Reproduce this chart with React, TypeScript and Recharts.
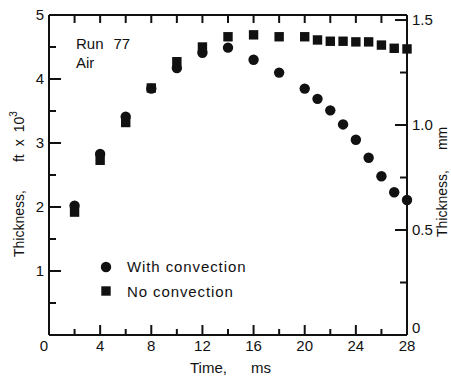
import { ScatterChart, Scatter, XAxis, YAxis, ReferenceLine } from "recharts"

const time = [2, 4, 6, 8, 10, 12, 14, 16, 18, 20, 21, 22, 23, 24, 25, 26, 27, 28]
const withConvection = [2.02, 2.83, 3.41, 3.85, 4.17, 4.41, 4.49, 4.3, 4.1, 3.85, 3.69, 3.51, 3.29, 3.05, 2.77, 2.48, 2.23, 2.11]
const noConvection = [1.92, 2.73, 3.32, 3.86, 4.27, 4.5, 4.66, 4.69, 4.66, 4.66, 4.61, 4.59, 4.59, 4.58, 4.58, 4.53, 4.48, 4.47]
const seriesNames = ["With convection", "No convection"]

const xTicks = [0, 2, 4, 6, 8, 10, 12, 14, 16, 18, 20, 22, 24, 26, 28]
const leftTicks = [0, 0.5, 1, 1.5, 2, 2.5, 3, 3.5, 4, 4.5, 5]
const rightTicks = [0, 0.25, 0.5, 0.75, 1, 1.25, 1.5]

// thickness is read in 10^-3 ft; the right axis is the same in mm
const FT_TO_MM = 304.8 / 1000
const withData = time.map((t, i) => ({ t, v: withConvection[i] }))
const noData = time.map((t, i) => ({ t, mm: noConvection[i] * FT_TO_MM }))

const FONT = "'Liberation Sans', Arial, sans-serif"
const INK = "#111"
const SW = 2

// chart box
const W = 451
const H = 376
const M_TOP = 14
const TOP_H = 1
const BOTTOM_H = 41
const LEFT_W = 49
const RIGHT_W = 44
const X_MAX = 28
const Y_MAX = 5
const MM_MAX = 1.524
const plotW = W - LEFT_W - RIGHT_W
const plotH = H - M_TOP - TOP_H - BOTTOM_H
// inward tick lengths in px, turned into axis units
const pxX = (px: number) => (px * X_MAX) / plotW
const pxY = (px: number) => (px * Y_MAX) / plotH

const inner = (arr: number[], hi: number) => arr.filter((v) => v > 0 && v < hi)

function BottomTick(props: any) {
    const x = Number(props.x)
    const y = Number(props.y)
    const v = Number(props.payload.value)
    if (v % 4 !== 0) return <g />
    return (
        <text x={v === 0 ? x - 5 : x} y={y + 16} textAnchor="middle" fontFamily={FONT} fontSize={15} fill={INK}>
            {v}
        </text>
    )
}

function LeftTick(props: any) {
    const x = Number(props.x)
    const y = Number(props.y)
    const v = Number(props.payload.value)
    if (!Number.isInteger(v) || v === 0) return <g />
    return (
        <text x={x - 5} y={y + 5} textAnchor="end" fontFamily={FONT} fontSize={15} fill={INK}>
            {v}
        </text>
    )
}

function RightTick(props: any) {
    const x = Number(props.x)
    const y = Number(props.y)
    const v = Number(props.payload.value)
    if (Math.abs(v * 2 - Math.round(v * 2)) > 1e-9) return <g />
    return (
        <text x={x + 5} y={v === 0 ? y - 2 : y + 5} textAnchor="start" fontFamily={FONT} fontSize={15} fill={INK}>
            {v === 0 ? "0" : v.toFixed(1)}
        </text>
    )
}

const Dot = ({ cx, cy }: any) => <circle cx={cx} cy={cy} r={5.2} fill={INK} />
const Box = ({ cx, cy }: any) => <rect x={cx - 4.7} y={cy - 4.7} width={9.4} height={9.4} fill={INK} />

const axisLine = { stroke: INK, strokeWidth: SW }

export default function App() {
    return (
        <div style={{ position: "absolute", left: 0, top: 0, width: W, height: H, background: "#fff" }}>
            <svg
                width={W}
                height={H}
                style={{ position: "absolute", left: 0, top: 0 }}
                fontFamily={FONT}
                fontSize={15}
                fill={INK}
            >
                <text x={76} y={49}>
                    Run<tspan dx={10}>77</tspan>
                </text>
                <text x={76} y={68}>Air</text>

                <circle cx={106} cy={267} r={5.2} fill={INK} />
                <text x={127} y={272} letterSpacing={0.9}>{seriesNames[0]}</text>
                <rect x={101.3} y={286.3} width={9.4} height={9.4} fill={INK} />
                <text x={127} y={297} letterSpacing={0.9}>{seriesNames[1]}</text>

                <text transform="translate(24,257) rotate(-90)" fontSize={14}>
                    Thickness,<tspan dx={28}>ft</tspan>
                    <tspan dx={8}>x</tspan>
                    <tspan dx={7}>10</tspan>
                    <tspan dy={-7} fontSize={10}>3</tspan>
                </text>
                <text transform="translate(447,237) rotate(-90)" fontSize={14}>
                    Thickness,<tspan dx={20}>mm</tspan>
                </text>
                <text x={190} y={373}>
                    Time,<tspan dx={24}>ms</tspan>
                </text>
            </svg>
            <div style={{ position: "absolute", left: 0, top: 0 }}>
                <ScatterChart width={W} height={H} margin={{ top: M_TOP, right: 0, bottom: 0, left: 0 }}>
                    <XAxis
                        xAxisId="bottom"
                        dataKey="t"
                        type="number"
                        domain={[0, X_MAX]}
                        ticks={xTicks}
                        interval={0}
                        height={BOTTOM_H}
                        tickSize={0}
                        tickMargin={0}
                        tickLine={false}
                        tick={<BottomTick />}
                        axisLine={axisLine}
                    />
                    <XAxis
                        xAxisId="top"
                        orientation="top"
                        dataKey="t"
                        type="number"
                        domain={[0, X_MAX]}
                        ticks={xTicks}
                        interval={0}
                        height={TOP_H}
                        tickSize={0}
                        tickLine={false}
                        tick={false}
                        axisLine={axisLine}
                    />
                    <YAxis
                        yAxisId="left"
                        dataKey="v"
                        type="number"
                        domain={[0, Y_MAX]}
                        ticks={leftTicks}
                        interval={0}
                        width={LEFT_W}
                        tickSize={0}
                        tickMargin={0}
                        tickLine={false}
                        tick={<LeftTick />}
                        axisLine={axisLine}
                    />
                    <YAxis
                        yAxisId="right"
                        orientation="right"
                        dataKey="mm"
                        type="number"
                        domain={[0, MM_MAX]}
                        ticks={rightTicks}
                        interval={0}
                        width={RIGHT_W}
                        tickSize={0}
                        tickMargin={0}
                        tickLine={false}
                        tick={<RightTick />}
                        axisLine={axisLine}
                    />

                    {/* inward tick marks */}
                    {inner(xTicks, X_MAX).map((t) => (
                        <ReferenceLine
                            key={`b${t}`}
                            xAxisId="bottom"
                            yAxisId="left"
                            segment={[{ x: t, y: 0 }, { x: t, y: pxY(t % 4 === 0 ? 10 : 6) }]}
                            stroke={INK}
                            strokeWidth={SW}
                        />
                    ))}
                    {inner(xTicks, X_MAX).map((t) => (
                        <ReferenceLine
                            key={`t${t}`}
                            xAxisId="bottom"
                            yAxisId="left"
                            segment={[{ x: t, y: Y_MAX }, { x: t, y: Y_MAX - pxY(8) }]}
                            stroke={INK}
                            strokeWidth={SW}
                        />
                    ))}
                    {inner(leftTicks, Y_MAX).map((v) => (
                        <ReferenceLine
                            key={`l${v}`}
                            xAxisId="bottom"
                            yAxisId="left"
                            segment={[{ x: 0, y: v }, { x: pxX(Number.isInteger(v) ? 12 : 7), y: v }]}
                            stroke={INK}
                            strokeWidth={SW}
                        />
                    ))}
                    {inner(rightTicks, MM_MAX).map((v) => (
                        <ReferenceLine
                            key={`r${v}`}
                            xAxisId="bottom"
                            yAxisId="right"
                            segment={[{ x: X_MAX - pxX(v % 0.5 === 0 ? 12 : 7), y: v }, { x: X_MAX, y: v }]}
                            stroke={INK}
                            strokeWidth={SW}
                        />
                    ))}

                    <Scatter
                        name={seriesNames[0]}
                        data={withData}
                        xAxisId="top"
                        yAxisId="left"
                        shape={<Dot />}
                        isAnimationActive={false}
                    />
                    <Scatter
                        name={seriesNames[1]}
                        data={noData}
                        xAxisId="bottom"
                        yAxisId="right"
                        shape={<Box />}
                        isAnimationActive={false}
                    />
                </ScatterChart>
            </div>
        </div>
    )
}
